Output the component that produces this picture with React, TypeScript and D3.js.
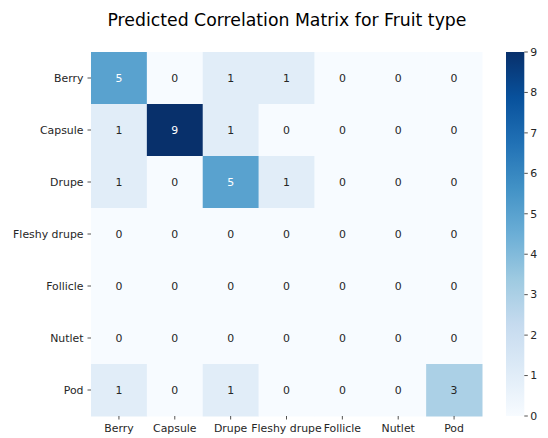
import React from "react";
import * as d3 from "d3";

const labels = ["Berry", "Capsule", "Drupe", "Fleshy drupe", "Follicle", "Nutlet", "Pod"];
const matrix: number[][] = [
  [5, 0, 1, 1, 0, 0, 0],
  [1, 9, 1, 0, 0, 0, 0],
  [1, 0, 5, 1, 0, 0, 0],
  [0, 0, 0, 0, 0, 0, 0],
  [0, 0, 0, 0, 0, 0, 0],
  [0, 0, 0, 0, 0, 0, 0],
  [1, 0, 1, 0, 0, 0, 3],
];
const colorTicks = [0, 1, 2, 3, 4, 5, 6, 7, 8, 9];
const title = "Predicted Correlation Matrix for Fruit type";
const blues = ["#f7fbff", "#deebf7", "#c6dbef", "#9ecae1", "#6baed6", "#4292c6", "#2171b5", "#08519c", "#08306b"];

export default function App() {
  const W = 548, H = 438;
  const left = 91, right = 482, top = 52, bottom = 416;
  const font = "DejaVu Sans, sans-serif";
  const fs = 10.9;
  const x = d3.scaleBand<string>().domain(labels).range([left, right]);
  const y = d3.scaleBand<string>().domain(labels).range([top, bottom]);
  const vmax = 9;
  const color = d3
    .scaleLinear<string>()
    .domain(blues.map((_, i) => (i / (blues.length - 1)) * vmax))
    .range(blues)
    .interpolate(d3.interpolateRgb);
  const cbX = 506, cbW = 18.3;
  const cb = d3.scaleLinear().domain([0, vmax]).range([bottom, top]);
  const lin = (c: number) => {
    const s = c / 255;
    return s <= 0.03928 ? s / 12.92 : Math.pow((s + 0.055) / 1.055, 2.4);
  };
  const textColor = (v: number) => {
    const c = d3.rgb(color(v));
    const lum = 0.2126 * lin(c.r) + 0.7152 * lin(c.g) + 0.0722 * lin(c.b);
    return lum > 0.408 ? "#262626" : "#ffffff";
  };
  return (
    <svg width={W} height={H} style={{ position: "absolute", left: 0, top: 0 }} fontFamily={font}>
      <rect width={W} height={H} fill="#ffffff" />
      <text x={287} y={26} fontSize={17.3} textAnchor="middle" fill="#000">{title}</text>
      {matrix.map((row, i) =>
        row.map((v, j) => (
          <g key={`${i}-${j}`}>
            <rect x={x(labels[j])!} y={y(labels[i])!} width={x.bandwidth() + 0.5} height={y.bandwidth() + 0.5} fill={color(v)} />
            <text
              x={x(labels[j])! + x.bandwidth() / 2}
              y={y(labels[i])! + y.bandwidth() / 2}
              dy="0.35em"
              fontSize={fs}
              textAnchor="middle"
              fill={textColor(v)}
            >
              {v}
            </text>
          </g>
        ))
      )}
      {labels.map((l) => (
        <g key={"y" + l}>
          <line x1={left - 3.5} x2={left} y1={y(l)! + y.bandwidth() / 2} y2={y(l)! + y.bandwidth() / 2} stroke="#262626" strokeWidth={0.8} />
          <text x={left - 7.5} y={y(l)! + y.bandwidth() / 2} dy="0.35em" fontSize={fs} textAnchor="end" fill="#262626">{l}</text>
        </g>
      ))}
      {labels.map((l) => (
        <g key={"x" + l}>
          <line x1={x(l)! + x.bandwidth() / 2} x2={x(l)! + x.bandwidth() / 2} y1={bottom} y2={bottom + 3.5} stroke="#262626" strokeWidth={0.8} />
          <text x={x(l)! + x.bandwidth() / 2} y={bottom + 15.5} fontSize={fs} textAnchor="middle" fill="#262626">{l}</text>
        </g>
      ))}
      <defs>
        <linearGradient id="cbg" x1="0" y1="1" x2="0" y2="0">
          {blues.map((c, i) => (
            <stop key={i} offset={i / (blues.length - 1)} stopColor={c} />
          ))}
        </linearGradient>
      </defs>
      <rect x={cbX} y={top} width={cbW} height={bottom - top} fill="url(#cbg)" />
      {colorTicks.map((t) => (
        <g key={"c" + t}>
          <line x1={cbX + cbW} x2={cbX + cbW + 3.5} y1={cb(t)} y2={cb(t)} stroke="#262626" strokeWidth={0.8} />
          <text x={cbX + cbW + 6} y={cb(t)} dy="0.35em" fontSize={fs} fill="#262626">{t}</text>
        </g>
      ))}
    </svg>
  );
}
